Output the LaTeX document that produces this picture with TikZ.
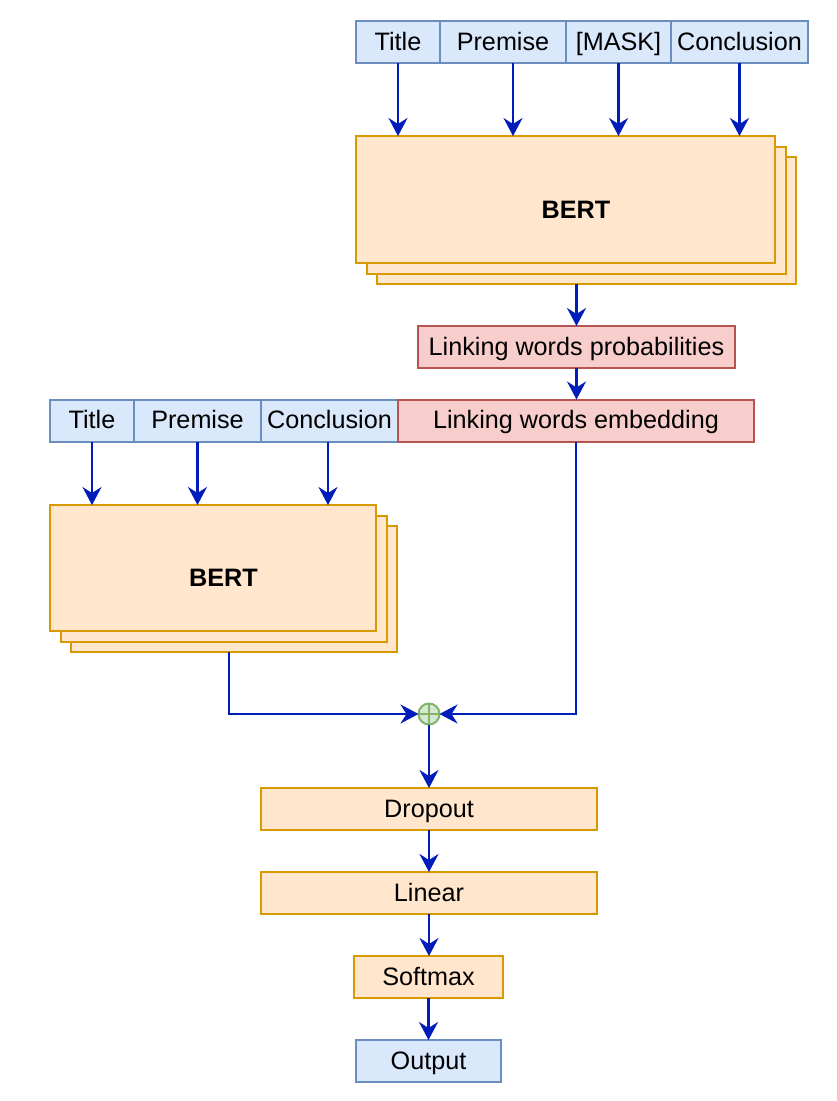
\documentclass[tikz,border=0pt]{standalone}
\usepackage{fontspec}
\setmainfont{Liberation Sans}
\usetikzlibrary{arrows.meta}
\definecolor{bluefill}{HTML}{DAE8FC}
\definecolor{bluestroke}{HTML}{6C8EBF}
\definecolor{orangefill}{HTML}{FFE6CC}
\definecolor{orangestroke}{HTML}{D79B00}
\definecolor{redfill}{HTML}{F8CECC}
\definecolor{redstroke}{HTML}{B85450}
\definecolor{greenfill}{HTML}{D5E8D4}
\definecolor{greenstroke}{HTML}{82B366}
\definecolor{arrowblue}{HTML}{001DBC}
\begin{document}
\begin{tikzpicture}[x=1pt,y=-1pt,
  font=\fontsize{25.2}{30}\selectfont,
  box/.style={draw, line width=2pt, inner sep=0pt, outer sep=0pt, text=black, text height=20pt, text depth=4pt},
  bluebox/.style={box, draw=bluestroke, fill=bluefill, minimum height=42pt},
  redbox/.style={box, draw=redstroke, fill=redfill, minimum height=42pt},
  orangebox/.style={box, draw=orangestroke, fill=orangefill, minimum height=42pt},
  bertbox/.style={box, draw=orangestroke, fill=orangefill},
  bertlabel/.style={text=black, inner sep=0pt, font=\fontsize{25.2}{30}\selectfont\bfseries, text height=20pt, text depth=4pt},
  arr/.style={draw=arrowblue, line width=2.2pt, -{Stealth[length=18pt,width=19pt,inset=6pt]}},
  plusnode/.style={circle, draw=greenstroke, fill=greenfill, line width=2pt, minimum size=21pt, inner sep=0pt, outer sep=0pt,
    path picture={\draw[greenstroke, line width=2pt] (path picture bounding box.north) -- (path picture bounding box.south)
      (path picture bounding box.west) -- (path picture bounding box.east);}}
]
\useasboundingbox (0,0) rectangle (836,1101);

% top input row
\node[bluebox, minimum width=84pt] (t1) at (398,42) {Title};
\node[bluebox, minimum width=126pt] (p1) at (503,42) {Premise};
\node[bluebox, minimum width=105pt] (m1) at (618.5,42) {[MASK]};
\node[bluebox, minimum width=137pt] (c1) at (739.5,42) {Conclusion};

% BERT 1 stack
\node[bertbox, minimum width=419pt, minimum height=127pt] (bert1c) at (586.5,220.5) {};
\node[bertbox, minimum width=419pt, minimum height=127pt] (bert1b) at (576,210) {};
\node[bertbox, minimum width=419pt, minimum height=127pt] (bert1) at (565.5,199.5) {};
\node[bertlabel] (bert1l) at (bert1b) {BERT};

\node[redbox, minimum width=317pt] (lwp) at (576.5,347) {Linking words probabilities};

% second input row
\node[bluebox, minimum width=84pt] (t2) at (92,420.5) {Title};
\node[bluebox, minimum width=127pt] (p2) at (197.5,420.5) {Premise};
\node[bluebox, minimum width=137pt] (c2) at (329.5,420.5) {Conclusion};
\node[redbox, minimum width=356pt] (emb) at (576,420.5) {Linking words embedding};

% BERT 2 stack
\node[bertbox, minimum width=326pt, minimum height=126pt] (bert2c) at (234,589) {};
\node[bertbox, minimum width=326pt, minimum height=126pt] (bert2b) at (223.5,578.5) {};
\node[bertbox, minimum width=326pt, minimum height=126pt] (bert2) at (213,568) {};
\node[bertlabel] (bert2l) at (bert2b) {BERT};

\node[plusnode] (plus) at (429,714) {};

\node[orangebox, minimum width=336pt] (drop) at (429,809) {Dropout};
\node[orangebox, minimum width=336pt] (lin) at (429,893) {Linear};
\node[orangebox, minimum width=149pt] (soft) at (428.5,977) {Softmax};
\node[bluebox, minimum width=145pt] (out) at (428.5,1061) {Output};

% arrows
\draw[arr] (t1.south) -- (t1.south |- bert1.north);
\draw[arr] ([xshift=10pt]p1.south) -- ([xshift=10pt]p1.south |- bert1.north);
\draw[arr] (m1.south) -- (m1.south |- bert1.north);
\draw[arr] (c1.south) -- (c1.south |- bert1.north);
\draw[arr] (bert1c.south -| lwp.north) -- (lwp.north);
\draw[arr] (lwp.south) -- (emb.north -| lwp.south);

\draw[arr] (t2.south) -- (t2.south |- bert2.north);
\draw[arr] (p2.south) -- (p2.south |- bert2.north);
\draw[arr] ([xshift=-1.5pt]c2.south) -- ([xshift=-1.5pt]c2.south |- bert2.north);

\draw[arr] ([xshift=-5pt]bert2c.south) |- (plus.west);
\draw[arr] (emb.south) |- (plus.east);
\draw[arr] (plus.south) -- (drop.north);
\draw[arr] (drop.south) -- (lin.north);
\draw[arr] (lin.south) -- (soft.north -| lin.south);
\draw[arr] (soft.south) -- (out.north);
\end{tikzpicture}
\end{document}
